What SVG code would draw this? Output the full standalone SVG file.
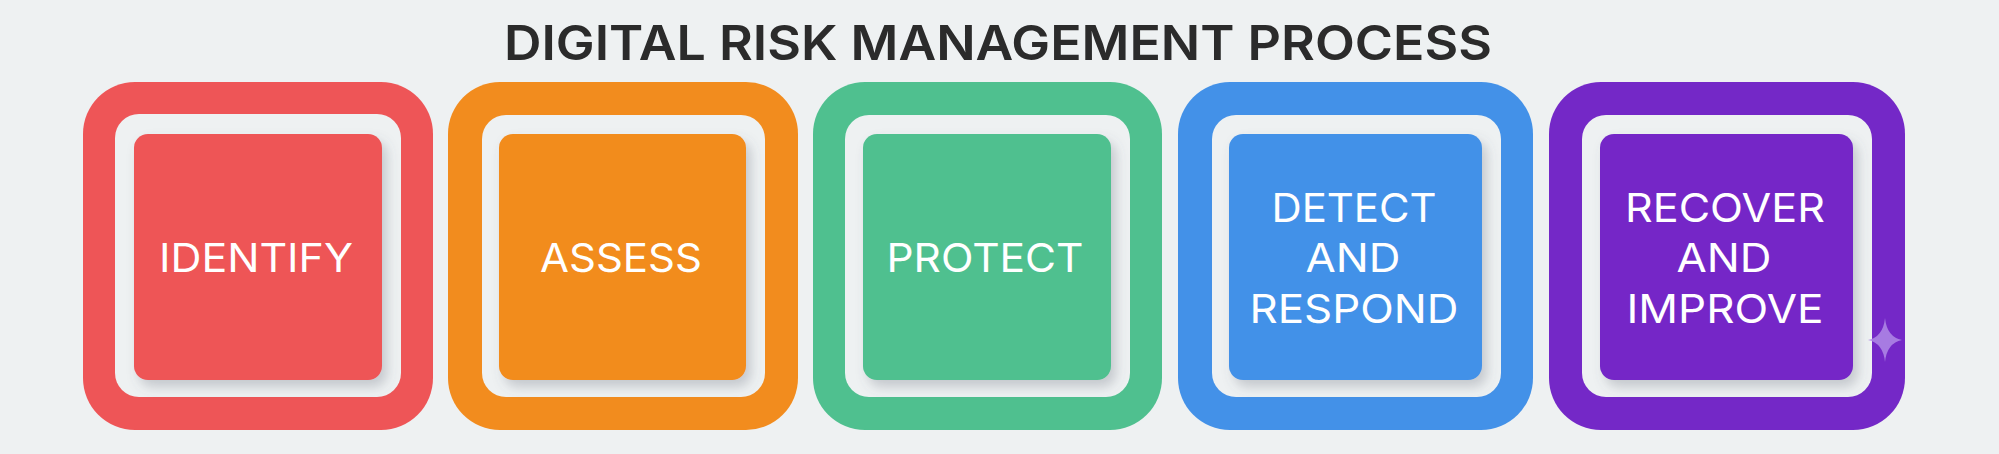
<svg xmlns="http://www.w3.org/2000/svg" width="1999" height="454" viewBox="0 0 1999 454">
  <defs>
    <filter id="shadow" x="-20%" y="-20%" width="150%" height="150%">
      <feDropShadow dx="5" dy="7" stdDeviation="6" flood-color="#5a6070" flood-opacity="0.28"/>
    </filter>
  </defs>
  <style>
    .bg { fill: #EEF1F2; }
    .hole { fill: #EEF1F2; }
    .label { font-family: Inter, "Liberation Sans", sans-serif; font-size: 40px; font-weight: 400; fill: #FFFFFF; text-anchor: middle; }
    .title { font-family: Inter, "Liberation Sans", sans-serif; font-size: 48px; font-weight: 600; fill: #2B2B2B; text-anchor: middle; }
  </style>
  <rect class="bg" x="0" y="0" width="1999" height="454"/>
  <text class="title" x="998" y="60" textLength="988" lengthAdjust="spacingAndGlyphs">DIGITAL RISK MANAGEMENT PROCESS</text>

  <g id="identify">
    <rect x="83" y="82" width="350" height="348" rx="52" fill="#EE5557"/>
    <rect class="hole" x="115" y="114" width="286" height="283" rx="24"/>
    <rect x="134" y="134" width="248" height="246" rx="14" fill="#EE5557" filter="url(#shadow)"/>
    <text class="label" x="256" y="272" textLength="194" lengthAdjust="spacingAndGlyphs">IDENTIFY</text>
  </g>

  <g id="assess">
    <rect x="448" y="82" width="350" height="348" rx="52" fill="#F28C1E"/>
    <rect class="hole" x="482" y="115" width="283" height="282" rx="24"/>
    <rect x="499" y="134" width="247" height="246" rx="14" fill="#F28C1E" filter="url(#shadow)"/>
    <text class="label" x="621" y="272" textLength="162" lengthAdjust="spacingAndGlyphs">ASSESS</text>
  </g>

  <g id="protect">
    <rect x="813" y="82" width="349" height="348" rx="52" fill="#4FC08F"/>
    <rect class="hole" x="845" y="115" width="285" height="282" rx="24"/>
    <rect x="863" y="134" width="248" height="246" rx="14" fill="#4FC08F" filter="url(#shadow)"/>
    <text class="label" x="985" y="272" textLength="197" lengthAdjust="spacingAndGlyphs">PROTECT</text>
  </g>

  <g id="detect-respond">
    <rect x="1178" y="82" width="355" height="348" rx="52" fill="#4391E8"/>
    <rect class="hole" x="1212" y="115" width="289" height="282" rx="24"/>
    <rect x="1229" y="134" width="253" height="246" rx="14" fill="#4391E8" filter="url(#shadow)"/>
    <text class="label" x="1354" y="222" textLength="165" lengthAdjust="spacingAndGlyphs">DETECT</text>
    <text class="label" x="1353" y="272" textLength="95" lengthAdjust="spacingAndGlyphs">AND</text>
    <text class="label" x="1354" y="323" textLength="209" lengthAdjust="spacingAndGlyphs">RESPOND</text>
  </g>

  <g id="recover-improve">
    <rect x="1549" y="82" width="356" height="348" rx="52" fill="#7428C7"/>
    <rect class="hole" x="1582" y="115" width="290" height="282" rx="24"/>
    <rect x="1600" y="134" width="253" height="246" rx="14" fill="#7428C7" filter="url(#shadow)"/>
    <text class="label" x="1725" y="222" textLength="200" lengthAdjust="spacingAndGlyphs">RECOVER</text>
    <text class="label" x="1724" y="272" textLength="95" lengthAdjust="spacingAndGlyphs">AND</text>
    <text class="label" x="1725" y="323" textLength="197" lengthAdjust="spacingAndGlyphs">IMPROVE</text>
    <path d="M1885 318 Q1887 337 1902 340 Q1887 343 1885 362 Q1883 343 1868 340 Q1883 337 1885 318 Z" fill="#B08AE6" fill-opacity="0.85"/>
  </g>

  <g id="connectors"/>
</svg>
